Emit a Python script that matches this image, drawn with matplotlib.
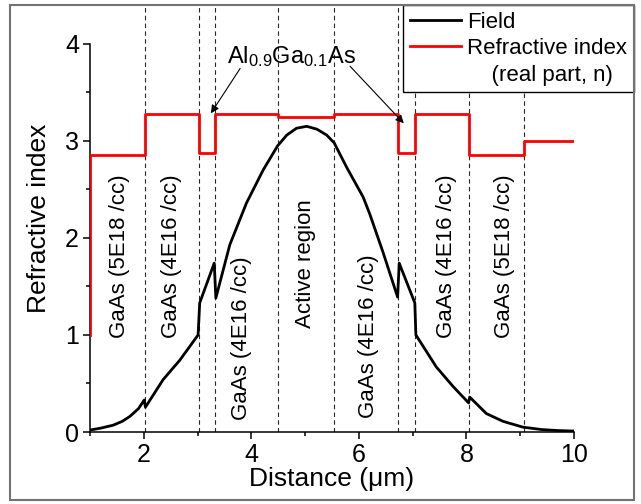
import numpy as np
import matplotlib
matplotlib.use("Agg")
import matplotlib.pyplot as plt
from matplotlib.patches import Rectangle
from matplotlib.lines import Line2D
from matplotlib.ticker import MultipleLocator

plt.rcParams['font.family'] = ['Liberation Sans', 'DejaVu Sans']
plt.rcParams['mathtext.default'] = 'regular'

# field profile
field_x = [1.0, 1.2, 1.43, 1.6, 1.74, 1.9, 2.01, 2.03, 2.36, 2.67, 3.01, 3.04,
           3.31, 3.34, 3.6, 3.91, 4.22, 4.49, 4.66, 4.84, 5.03, 5.22, 5.4, 5.54,
           5.77, 6.08, 6.2, 6.45, 6.72, 6.75, 7.04, 7.06, 7.44, 7.75, 8.04, 8.06,
           8.37, 8.68, 9.05, 9.4, 9.7, 10.0]
field_y = [0.02, 0.04, 0.07, 0.11, 0.16, 0.24, 0.33, 0.255, 0.54, 0.74, 1.0, 1.33,
           1.74, 1.38, 1.93, 2.36, 2.70, 2.95, 3.06, 3.13, 3.15, 3.12, 3.06, 2.98,
           2.73, 2.42, 2.25, 1.85, 1.39, 1.74, 1.33, 1.0, 0.67, 0.47, 0.30, 0.36,
           0.19, 0.11, 0.05, 0.025, 0.015, 0.01]

# layer boundaries and refractive index of each layer
layer_edges = [1.0, 2.02, 3.03, 3.33, 4.49, 5.54, 6.73, 7.05, 8.05, 9.07, 10.0]
layer_n = [2.85, 3.28, 2.88, 3.28, 3.245, 3.28, 2.87, 3.28, 2.85, 3.0]
n_air = 1.0

boundaries = layer_edges[1:-1]
layer_labels = ["GaAs (5E18 /cc)", "GaAs (4E16 /cc)", "GaAs (4E16 /cc)", "Active region",
                "GaAs (4E16 /cc)", "GaAs (4E16 /cc)", "GaAs (5E18 /cc)"]
label_x = [1.54, 2.52, 3.81, 5.0, 6.17, 7.62, 8.70]
label_y = [1.81, 1.81, 0.97, 1.73, 0.99, 1.81, 1.81]

fig = plt.figure(figsize=(6.41, 5.04), dpi=100)
ax = fig.add_axes([90 / 641, 72 / 504, 484 / 641, 427 / 504])

for b in boundaries:
    ax.axvline(b, color='0.15', lw=0.8, dashes=(4, 3), zorder=1)

n_x = [layer_edges[0]] + layer_edges
n_y = [n_air] + layer_n + [layer_n[-1]]
ax.plot(field_x, field_y, color='black', lw=2, zorder=3, label='Field')
ax.plot(n_x, n_y, color='red', lw=2, drawstyle='steps-post', zorder=3,
        label='Refractive index')

for lx, ly, txt in zip(label_x, label_y, layer_labels):
    ax.text(lx, ly, txt, rotation=90, ha='center', va='center', fontsize=16)

ax.text(4.74, 3.87, r'Al$_{0.9}$Ga$_{0.1}$As', ha='center', va='center', fontsize=17)
ax.annotate('', xy=(3.22, 3.26), xytext=(3.82, 3.77),
            arrowprops=dict(arrowstyle='-|>', color='k', lw=0.8, mutation_scale=12))
ax.annotate('', xy=(6.87, 3.16), xytext=(5.80, 3.79),
            arrowprops=dict(arrowstyle='-|>', color='k', lw=0.8, mutation_scale=12))

ax.set_xlim(1, 10)
ax.set_ylim(0, 4.4)
ax.spines['top'].set_visible(False)
ax.spines['right'].set_visible(False)
ax.spines['left'].set_bounds(0, 4)
ax.spines['left'].set_linewidth(1.1)
ax.spines['bottom'].set_linewidth(1.1)
ax.xaxis.set_major_locator(MultipleLocator(2))
ax.xaxis.set_minor_locator(MultipleLocator(1))
ax.yaxis.set_major_locator(MultipleLocator(1))
ax.yaxis.set_minor_locator(MultipleLocator(0.5))
ax.tick_params(which='major', direction='out', length=5, width=1.1, labelsize=18, pad=3)
ax.tick_params(which='minor', direction='out', length=3, width=1.1)
ax.set_xlabel('Distance (μm)', fontsize=19, labelpad=0)
ax.set_ylabel('Refractive index', fontsize=19, labelpad=10)

handles = [Line2D([], [], color='black', lw=2),
           Line2D([], [], color='red', lw=2),
           Line2D([], [], color='none')]
labels = ['Field', 'Refractive index', '    (real part, n)']
leg = fig.legend(handles, labels, loc='upper right', bbox_to_anchor=(634 / 641, 499 / 504),
                 borderaxespad=0, fontsize=16, frameon=True, fancybox=False,
                 edgecolor='black', framealpha=1, handlelength=2.3, handletextpad=0.3,
                 labelspacing=0.25, borderpad=0.3)
leg.get_frame().set_linewidth(1.0)

fig.patches.append(Rectangle((10 / 641, 4 / 504), 624 / 641, 495 / 504,
                             transform=fig.transFigure, fill=False,
                             edgecolor='0.45', lw=1.5, zorder=10))

fig.savefig('out.png', dpi=100)
